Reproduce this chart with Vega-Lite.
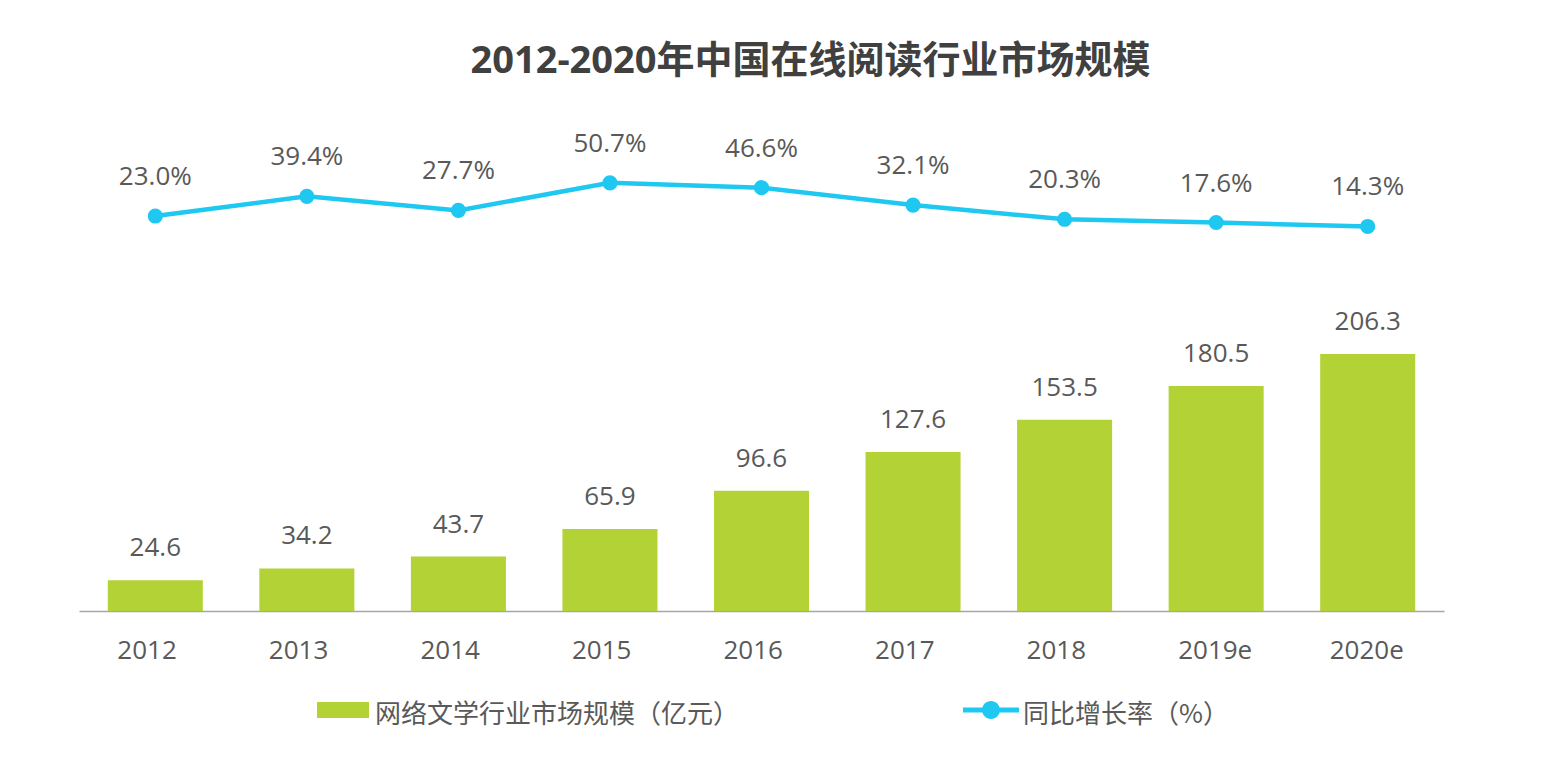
{
  "$schema": "https://vega.github.io/schema/vega-lite/v6.json",
  "width": 1365,
  "height": 481,
  "autosize": {"type": "none"},
  "padding": {"left": 79, "top": 130, "right": 118, "bottom": 169},
  "background": "white",
  "title": {
    "text": "2012-2020年中国在线阅读行业市场规模",
    "fontSize": 38,
    "fontWeight": "bold",
    "color": "#404040",
    "font": "Open Sans, Noto Sans CJK SC",
    "anchor": "middle",
    "dx": 49,
    "offset": 49
  },
  "data": {
    "values": [
      {"year": "2012", "market": 24.6, "growth": 0.230},
      {"year": "2013", "market": 34.2, "growth": 0.394},
      {"year": "2014", "market": 43.7, "growth": 0.277},
      {"year": "2015", "market": 65.9, "growth": 0.507},
      {"year": "2016", "market": 96.6, "growth": 0.466},
      {"year": "2017", "market": 127.6, "growth": 0.321},
      {"year": "2018", "market": 153.5, "growth": 0.203},
      {"year": "2019e", "market": 180.5, "growth": 0.176},
      {"year": "2020e", "market": 206.3, "growth": 0.143}
    ]
  },
  "encoding": {
    "x": {
      "field": "year",
      "type": "nominal",
      "sort": null,
      "scale": {"paddingInner": 0.373, "paddingOuter": 0.19},
      "axis": {
        "title": null,
        "labelAngle": 0,
        "labelFontSize": 26,
        "labelFont": "Open Sans",
        "labelColor": "#595959",
        "labelBaseline": "alphabetic",
        "labelAlign": "left",
        "labelOffset": -38,
        "labelPadding": 47,
        "ticks": false,
        "grid": false,
        "domainColor": "#a6a6a6",
        "domainWidth": 1.5
      }
    }
  },
  "layer": [
    {
      "encoding": {
        "y": {"field": "market", "type": "quantitative", "scale": {"domain": [0, 386]}, "axis": null}
      },
      "layer": [
        {
          "mark": {"type": "bar"},
          "encoding": {
            "fill": {
              "datum": "网络文学行业市场规模（亿元）",
              "type": "nominal",
              "scale": {"range": ["#b2d235"]},
              "legend": {
                "title": null,
                "orient": "none",
                "legendX": 238,
                "legendY": 554,
                "padding": 0,
                "symbolType": "M-1,-0.31L1,-0.31L1,0.31L-1,0.31Z",
                "symbolSize": 2704,
                "symbolStrokeWidth": 0,
                "labelFontSize": 26,
                "labelFont": "Noto Sans CJK SC",
                "labelColor": "#595959",
                "labelOffset": 6,
                "labelLimit": 600,
                "encode": {"labels": {"update": {"dy": {"value": 5}}}}
              }
            }
          }
        },
        {
          "mark": {"type": "text", "baseline": "alphabetic", "dy": -24, "fontSize": 26, "font": "Open Sans", "color": "#595959"},
          "encoding": {"text": {"field": "market", "type": "quantitative", "format": ".1f"}}
        }
      ]
    },
    {
      "encoding": {
        "y": {"field": "growth", "type": "quantitative", "scale": {"domain": [-3.062, 0.947]}, "axis": null}
      },
      "layer": [
        {
          "mark": {"type": "line", "strokeWidth": 4.5},
          "encoding": {
            "stroke": {
              "datum": "同比增长率（%）",
              "type": "nominal",
              "scale": {"range": ["#1ec8f0"]},
              "legend": {
                "title": null,
                "orient": "none",
                "legendX": 884,
                "legendY": 552,
                "padding": 0,
                "symbolType": "M-1,-0.09L1,-0.09L1,0.09L-1,0.09Z M-0.32,0A0.32,0.32,0,1,1,0.32,0A0.32,0.32,0,1,1,-0.32,0Z",
                "symbolSize": 3136,
                "symbolFillColor": "#1ec8f0",
                "symbolStrokeWidth": 0,
                "labelFontSize": 26,
                "labelFont": "Noto Sans CJK SC",
                "labelColor": "#595959",
                "labelOffset": 4,
                "labelLimit": 600,
                "encode": {
                  "symbols": {"update": {"fill": {"value": "#1ec8f0"}, "strokeWidth": {"value": 0}, "opacity": {"value": 1}}},
                  "labels": {"update": {"dy": {"value": 5}}}
                }
              }
            }
          }
        },
        {
          "mark": {"type": "point", "filled": true, "size": 230, "opacity": 1, "color": "#1ec8f0"}
        },
        {
          "mark": {"type": "text", "baseline": "alphabetic", "dy": -31, "fontSize": 26, "font": "Open Sans", "color": "#595959"},
          "encoding": {"text": {"field": "growth", "type": "quantitative", "format": ".1%"}}
        }
      ]
    }
  ],
  "resolve": {"scale": {"y": "independent"}},
  "config": {"view": {"stroke": null}}
}
